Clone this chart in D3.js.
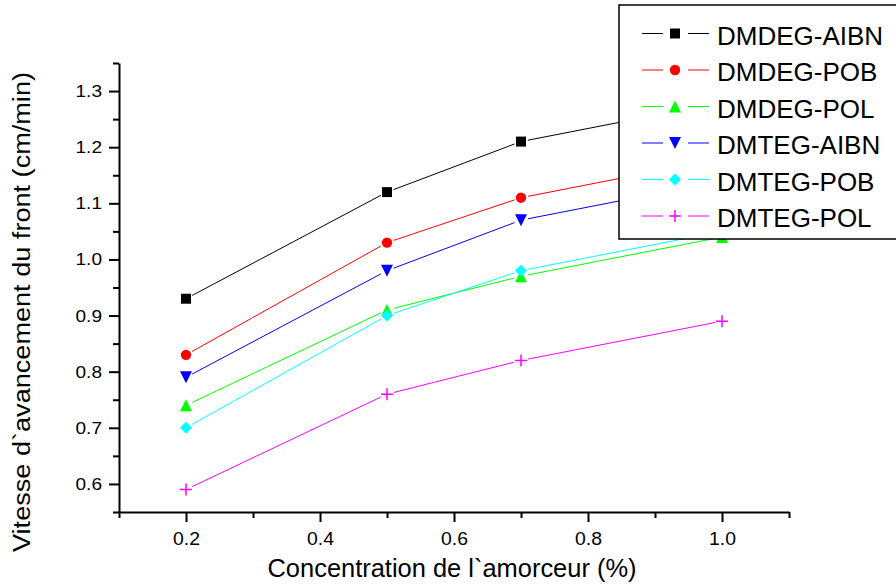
<!DOCTYPE html>
<html>
<head>
<meta charset="utf-8">
<script src="https://cdn.jsdelivr.net/npm/d3@7"></script>
<style>
  body { margin: 0; background: #fff; }
  svg { display: block; font-family: "Liberation Sans", Arial, sans-serif; }
</style>
</head>
<body>
<div id="chart"></div>
<script>
// Data
const concentrations = [0.2, 0.5, 0.7, 1.0];
const seriesNames = ["DMDEG-AIBN", "DMDEG-POB", "DMDEG-POL", "DMTEG-AIBN", "DMTEG-POB", "DMTEG-POL"];
const dmdegAibn = [0.93, 1.12, 1.21, 1.28];
const dmdegPob  = [0.83, 1.03, 1.11, 1.18];
const dmdegPol  = [0.74, 0.91, 0.97, 1.04];
const dmtegAibn = [0.79, 0.98, 1.07, 1.14];
const dmtegPob  = [0.70, 0.90, 0.98, 1.05];
const dmtegPol  = [0.59, 0.76, 0.82, 0.89];

const xMajorTicks = [0.2, 0.4, 0.6, 0.8, 1.0];
const xMinorTicks = [0.1, 0.3, 0.5, 0.7, 0.9, 1.1];
const yMajorTicks = [0.6, 0.7, 0.8, 0.9, 1.0, 1.1, 1.2, 1.3];
const yMinorTicks = [0.55, 0.65, 0.75, 0.85, 0.95, 1.05, 1.15, 1.25, 1.35];

const width = 896;
const height = 587;

const series = [
  { name: seriesNames[0], values: dmdegAibn, color: "#000000", marker: "square" },
  { name: seriesNames[1], values: dmdegPob,  color: "#ff0000", marker: "circle" },
  { name: seriesNames[2], values: dmdegPol,  color: "#00ff00", marker: "triangleUp" },
  { name: seriesNames[3], values: dmtegAibn, color: "#0000ff", marker: "triangleDown" },
  { name: seriesNames[4], values: dmtegPob,  color: "#00ffff", marker: "diamond" },
  { name: seriesNames[5], values: dmtegPol,  color: "#ff00ff", marker: "plus" }
];

const x = d3.scaleLinear().domain([0.1, 1.1]).range([119, 789]);
const y = d3.scaleLinear().domain([0.55, 1.35]).range([512, 63]);

const svg = d3.select("#chart").append("svg")
  .attr("width", width)
  .attr("height", height)
  .attr("viewBox", [0, 0, width, height]);

// Marker path for a given shape, centred on 0,0
function markerPath(type) {
  switch (type) {
    case "square": return "M-5,-5H5V5H-5Z";
    case "circle": return d3.symbol(d3.symbolCircle, Math.PI * 27)();
    case "triangleUp": return "M0,-6L6,6H-6Z";
    case "triangleDown": return "M0,6L6,-6H-6Z";
    case "diamond": return "M0,-6L6,0L0,6L-6,0Z";
    case "plus": return "M-6,0H6M0,-6V6";
  }
}

function drawMarker(g, s, cx, cy) {
  const p = g.append("path")
    .attr("transform", `translate(${cx},${cy})`)
    .attr("d", markerPath(s.marker));
  if (s.marker === "plus") {
    p.attr("fill", "none").attr("stroke", s.color).attr("stroke-width", 1.5);
  } else {
    p.attr("fill", s.color);
  }
}

// Lines (with a small gap next to each marker) and markers
const gap = 7;
const plot = svg.append("g");
series.forEach(s => {
  const pts = concentrations.map((c, i) => [x(c), y(s.values[i])]);
  const g = plot.append("g");
  d3.pairs(pts).forEach(([a, b]) => {
    const dx = b[0] - a[0], dy = b[1] - a[1];
    const len = Math.hypot(dx, dy);
    const ux = dx / len, uy = dy / len;
    g.append("line")
      .attr("x1", a[0] + ux * gap).attr("y1", a[1] + uy * gap)
      .attr("x2", b[0] - ux * gap).attr("y2", b[1] - uy * gap)
      .attr("stroke", s.color)
      .attr("stroke-width", 1);
  });
  pts.forEach(p => drawMarker(g, s, p[0], p[1]));
});

// Axes
const xAxis = svg.append("g")
  .attr("transform", `translate(0,${y.range()[0]})`)
  .call(d3.axisBottom(x).tickValues(xMajorTicks).tickSize(10).tickSizeOuter(0)
    .tickPadding(10).tickFormat(d3.format(".1f")));
svg.append("g")
  .attr("transform", `translate(0,${y.range()[0]})`)
  .call(d3.axisBottom(x).tickValues(xMinorTicks).tickSize(6).tickSizeOuter(0).tickFormat(""))
  .call(g => g.select(".domain").remove());

const yAxis = svg.append("g")
  .attr("transform", `translate(${x.range()[0]},0)`)
  .call(d3.axisLeft(y).tickValues(yMajorTicks).tickSize(10).tickSizeOuter(0)
    .tickPadding(7).tickFormat(d3.format(".1f")));
svg.append("g")
  .attr("transform", `translate(${x.range()[0]},0)`)
  .call(d3.axisLeft(y).tickValues(yMinorTicks).tickSize(6).tickSizeOuter(0).tickFormat(""))
  .call(g => g.select(".domain").remove());

svg.selectAll(".domain, .tick line").attr("stroke", "#000").attr("stroke-width", 2);
xAxis.selectAll("text").attr("font-size", 18.5).attr("fill", "#000")
  .attr("textLength", 27).attr("lengthAdjust", "spacingAndGlyphs");
yAxis.selectAll("text").attr("font-size", 17).attr("fill", "#000")
  .attr("textLength", 26.5).attr("lengthAdjust", "spacingAndGlyphs");
svg.selectAll(".tick text").style("font-family", "'Liberation Sans', Arial, sans-serif");

// Axis titles
svg.append("text")
  .attr("x", 452)
  .attr("y", 577)
  .attr("text-anchor", "middle")
  .attr("font-size", 25)
  .attr("textLength", 369)
  .attr("lengthAdjust", "spacingAndGlyphs")
  .text("Concentration de l`amorceur (%)");

svg.append("text")
  .attr("transform", "translate(30,312) rotate(-90)")
  .attr("text-anchor", "middle")
  .attr("font-size", 23)
  .attr("textLength", 480)
  .attr("lengthAdjust", "spacingAndGlyphs")
  .text("Vitesse d`avancement du front (cm/min)");

// Legend
const legend = svg.append("g");
legend.append("rect")
  .attr("x", 619).attr("y", 5)
  .attr("width", 300).attr("height", 234)
  .attr("fill", "#fff")
  .attr("stroke", "#000")
  .attr("stroke-width", 1.5);

series.forEach((s, i) => {
  const cy = 33.5 + i * 36.5;
  const row = legend.append("g");
  row.append("line").attr("x1", 642).attr("x2", 663).attr("y1", cy).attr("y2", cy)
    .attr("stroke", s.color).attr("stroke-width", 1);
  row.append("line").attr("x1", 688).attr("x2", 709).attr("y1", cy).attr("y2", cy)
    .attr("stroke", s.color).attr("stroke-width", 1);
  drawMarker(row, s, 675, cy);
  row.append("text")
    .attr("x", 717)
    .attr("y", cy + 11)
    .attr("font-size", 26)
    .text(s.name);
});
</script>
</body>
</html>
